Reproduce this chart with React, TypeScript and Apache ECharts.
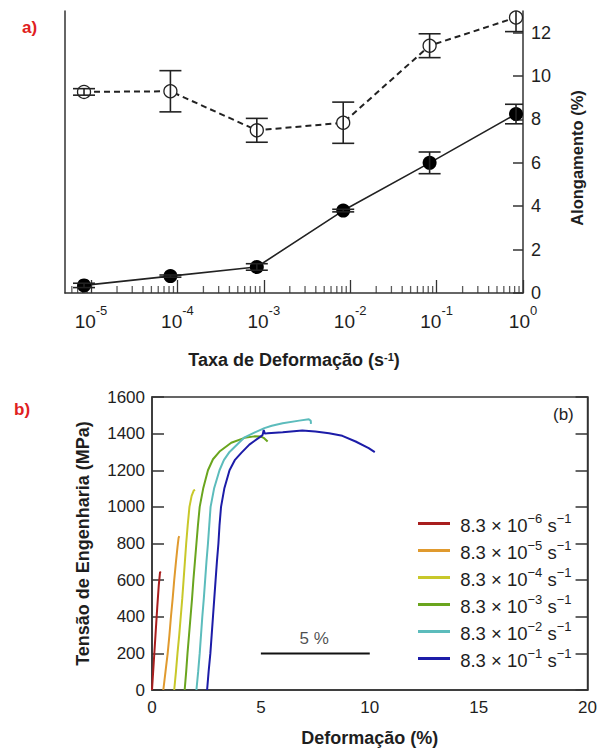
import { useEffect, useRef } from "react";
import * as echarts from "echarts";

// ---------- Panel a data ----------
const strainRates = [8.3e-6, 8.3e-5, 8.3e-4, 8.3e-3, 8.3e-2, 8.3e-1];
const uniformElong = [0.35, 0.78, 1.2, 3.8, 6.0, 8.25];
const uniformErr = [0.1, 0.05, 0.15, 0.06, 0.5, 0.45];
const totalElong = [9.27, 9.3, 7.5, 7.85, 11.4, 12.7];
const totalErr = [0.15, 0.95, 0.55, 0.95, 0.55, 0.65];
const elongTicks = [0, 2, 4, 6, 8, 10, 12];
const decadeExps = [-6, -5, -4, -3, -2, -1];
const minorMultipliers = [2, 3, 4, 5, 6, 7, 8, 9];

// ---------- Panel b data ----------
const curveExps = [-6, -5, -4, -3, -2, -1];
const curveColors = ["#a81e1e", "#e09a2e", "#c8c82a", "#6aa51e", "#5cbcbc", "#1c1ca8"];
const curve6 = [[0, 0], [0.08, 150], [0.16, 300], [0.24, 450], [0.31, 570], [0.37, 645], [0.4, 640]];
const curve5 = [[0.52, 0], [0.62, 100], [0.72, 200], [0.8, 300], [0.87, 400], [0.95, 500], [1.02, 600], [1.1, 700], [1.17, 780], [1.22, 830], [1.25, 840]];
const curve4 = [[1.02, 0], [1.1, 100], [1.17, 200], [1.25, 300], [1.32, 400], [1.39, 500], [1.45, 600], [1.51, 700], [1.57, 800], [1.64, 900], [1.72, 1000], [1.82, 1060], [1.92, 1090], [1.98, 1093]];
const curve3 = [[1.5, 0], [1.57, 100], [1.63, 200], [1.7, 300], [1.77, 400], [1.84, 500], [1.9, 600], [1.97, 700], [2.04, 800], [2.11, 900], [2.19, 1000], [2.35, 1100], [2.57, 1200], [2.8, 1260], [3.1, 1302], [3.64, 1350], [4.25, 1377], [4.7, 1385], [5.0, 1384], [5.15, 1375], [5.31, 1357]];
const curve2 = [[2.04, 0], [2.12, 100], [2.19, 200], [2.25, 300], [2.31, 400], [2.38, 500], [2.44, 600], [2.5, 700], [2.57, 800], [2.63, 900], [2.69, 1000], [2.85, 1100], [3.1, 1200], [3.3, 1255], [3.56, 1300], [4.25, 1380], [4.7, 1405], [5.16, 1430], [5.5, 1443], [6.0, 1457], [6.76, 1471], [7.2, 1479], [7.29, 1470], [7.3, 1453]];
const curve1 = [[2.53, 0], [2.6, 100], [2.68, 200], [2.74, 300], [2.8, 400], [2.86, 500], [2.92, 600], [2.98, 700], [3.05, 800], [3.1, 900], [3.17, 1000], [3.32, 1100], [3.56, 1200], [3.8, 1255], [4.1, 1295], [4.47, 1340], [4.7, 1360], [5.0, 1385], [5.08, 1393], [5.13, 1420], [5.18, 1400], [5.31, 1402], [6.0, 1408], [6.9, 1417], [7.5, 1411], [8.13, 1402], [8.74, 1388], [9.35, 1357], [9.95, 1321], [10.23, 1299]];
const curves = [curve6, curve5, curve4, curve3, curve2, curve1];
const scaleBar = [[5, 200], [10, 200]];
const scaleBarLabelPos = [[7.45, 200]];

const FONT = "Liberation Sans, Arial, Helvetica, sans-serif";
const INK = "#1e1e1e";
const AXIS = "#333";

const curveName = (e: number) => `8.3×10^${e} s^-1`;

export default function App() {
  const ref = useRef<HTMLDivElement>(null);
  useEffect(() => {
    if (!ref.current) return;
    const chart = echarts.init(ref.current, undefined, { renderer: "svg" });

    const minorTicks: number[][] = [];
    decadeExps.forEach((e) => {
      minorMultipliers.forEach((m) => {
        const v = m * Math.pow(10, e);
        if (v > 5e-6 && v < 1) minorTicks.push([v, 0]);
      });
    });

    const errRenderer = (params: any, api: any) => {
      const x = api.value(0);
      const y = api.value(1);
      const e = api.value(2);
      const top = api.coord([x, y + e]);
      const bot = api.coord([x, y - e]);
      const hw = 11;
      const st = { stroke: "#222", lineWidth: 1.6 };
      return {
        type: "group",
        children: [
          { type: "line", shape: { x1: top[0], y1: top[1], x2: bot[0], y2: bot[1] }, style: st },
          { type: "line", shape: { x1: top[0] - hw, y1: top[1], x2: top[0] + hw, y2: top[1] }, style: st },
          { type: "line", shape: { x1: bot[0] - hw, y1: bot[1], x2: bot[0] + hw, y2: bot[1] }, style: st },
        ],
      };
    };

    const option: any = {
      animation: false,
      backgroundColor: "#fff",
      textStyle: { fontFamily: FONT, color: INK },
      grid: [
        { left: 65, right: 77, top: 11, bottom: 456 },
        { left: 152, right: 10, top: 397, bottom: 59, show: true, borderColor: AXIS, borderWidth: 1.5, backgroundColor: "transparent" },
      ],
      xAxis: [
        {
          type: "log",
          logBase: 10,
          gridIndex: 0,
          min: 5e-6,
          max: 1,
          name: "Taxa de Deformação (s{s|-1})",
          nameLocation: "middle",
          nameGap: 58,
          nameTextStyle: {
            fontSize: 18,
            fontWeight: "bold",
            color: INK,
            rich: { s: { fontSize: 11, verticalAlign: "top", fontWeight: "bold", color: INK } },
          },
          axisLine: { show: true, lineStyle: { color: AXIS, width: 1.5 } },
          axisTick: { show: true, inside: true, length: 13, lineStyle: { color: AXIS, width: 1.3 } },
          splitLine: { show: false },
          axisLabel: {
            margin: 11,
            showMinLabel: false,
            formatter: (v: number) => {
              const lg = Math.log10(v);
              const e = Math.round(lg);
              if (Math.abs(lg - e) > 1e-6) return "";
              return `{b|10}{s|${e}}`;
            },
            rich: {
              b: { fontSize: 19, color: INK, lineHeight: 27, verticalAlign: "bottom" },
              s: { fontSize: 13, color: INK, verticalAlign: "top" },
            },
          },
        },
        {
          type: "value",
          gridIndex: 1,
          min: 0,
          max: 20,
          interval: 5,
          name: "Deformação (%)",
          nameLocation: "middle",
          nameGap: 39,
          nameTextStyle: { fontSize: 18, fontWeight: "bold", color: INK },
          axisLine: { show: true, lineStyle: { color: AXIS, width: 1.5 } },
          axisTick: { show: false },
          splitLine: { show: false },
          axisLabel: { fontSize: 17, color: INK, margin: 9, formatter: (v: number) => String(v) },
        },
      ],
      yAxis: [
        {
          type: "value",
          gridIndex: 0,
          position: "right",
          min: 0,
          max: 13,
          name: "Alongamento (%)",
          nameLocation: "middle",
          nameRotate: 90,
          nameGap: 45,
          nameTextStyle: { fontSize: 16.5, fontWeight: "bold", color: INK, padding: [0, 12, 0, 0] },
          axisLine: { show: true, lineStyle: { color: AXIS, width: 1.5 } },
          axisTick: { show: true, inside: true, length: 10, customValues: elongTicks, lineStyle: { color: AXIS, width: 1.5 } },
          axisLabel: { customValues: elongTicks, fontSize: 18, color: INK, margin: 8 },
          splitLine: { show: false },
        },
        {
          type: "value",
          gridIndex: 0,
          position: "left",
          min: 0,
          max: 13,
          axisLine: { show: true, lineStyle: { color: AXIS, width: 1.5 } },
          axisTick: { show: false },
          axisLabel: { show: false },
          splitLine: { show: false },
        },
        {
          type: "value",
          gridIndex: 1,
          min: 0,
          max: 1600,
          interval: 200,
          name: "Tensão de Engenharia (MPa)",
          nameLocation: "middle",
          nameGap: 60,
          nameTextStyle: { fontSize: 18, fontWeight: "bold", color: INK },
          axisLine: { show: true, lineStyle: { color: AXIS, width: 1.5 } },
          axisTick: { show: true, inside: true, length: 12, lineStyle: { color: AXIS, width: 1.5 } },
          axisLabel: { fontSize: 17, color: INK, margin: 7, formatter: (v: number) => String(v) },
          splitLine: { show: false },
        },
        {
          type: "value",
          gridIndex: 1,
          position: "right",
          min: 0,
          max: 1600,
          interval: 200,
          axisLine: { show: true, lineStyle: { color: AXIS, width: 1.5 } },
          axisTick: { show: true, inside: true, length: 12, lineStyle: { color: AXIS, width: 1.5 } },
          axisLabel: { show: false },
          splitLine: { show: false },
        },
      ],
      legend: {
        data: curveExps.map(curveName),
        orient: "vertical",
        left: 413,
        top: 507,
        itemWidth: 32,
        itemHeight: 3,
        itemGap: 4,
        icon: "rect",
        selectedMode: false,
        formatter: (name: string) => {
          const i = curveExps.map(curveName).indexOf(name);
          const e = curveExps[i];
          return `{n| 8.3 × 10}{s|−${-e}}{n| s}{s|−1}`;
        },
        textStyle: {
          rich: {
            n: { fontSize: 18.5, color: INK, lineHeight: 23, verticalAlign: "bottom", fontFamily: FONT },
            s: { fontSize: 13, color: INK, verticalAlign: "top", fontFamily: FONT },
          },
        },
      },
      graphic: [
        { type: "text", left: 22, top: 19, style: { text: "a)", fontSize: 17, fontWeight: "bold", fill: "#e02020", fontFamily: FONT } },
        { type: "text", left: 14, top: 401, style: { text: "b)", fontSize: 17, fontWeight: "bold", fill: "#e02020", fontFamily: FONT } },
        { type: "text", left: 553, top: 406, style: { text: "(b)", fontSize: 17, fill: INK, fontFamily: FONT } },
      ],
      series: [
        {
          name: "minorTicks",
          type: "scatter",
          xAxisIndex: 0,
          yAxisIndex: 0,
          data: minorTicks,
          symbol: "rect",
          symbolSize: [1.3, 7],
          symbolOffset: [0, -3.5],
          itemStyle: { color: AXIS },
          silent: true,
          z: 1,
        },
        {
          name: "Alongamento total",
          type: "line",
          xAxisIndex: 0,
          yAxisIndex: 0,
          data: strainRates.map((r, i) => [r, totalElong[i]]),
          symbol: "circle",
          symbolSize: 13,
          lineStyle: { color: "#222", width: 2, type: [6, 4] },
          itemStyle: { color: "#fff", borderColor: "#222", borderWidth: 1.3 },
          z: 2,
        },
        {
          name: "Alongamento uniforme",
          type: "line",
          xAxisIndex: 0,
          yAxisIndex: 0,
          data: strainRates.map((r, i) => [r, uniformElong[i]]),
          symbol: "circle",
          symbolSize: 14,
          lineStyle: { color: "#222", width: 1.6 },
          itemStyle: { color: "#000", borderColor: "#000", borderWidth: 0 },
          z: 2,
        },
        {
          name: "errTotal",
          type: "custom",
          xAxisIndex: 0,
          yAxisIndex: 0,
          clip: true,
          encode: { x: 0, y: 1 },
          data: strainRates.map((r, i) => [r, totalElong[i], totalErr[i]]),
          renderItem: errRenderer,
          z: 3,
          silent: true,
        },
        {
          name: "errUniform",
          type: "custom",
          xAxisIndex: 0,
          yAxisIndex: 0,
          clip: true,
          encode: { x: 0, y: 1 },
          data: strainRates.map((r, i) => [r, uniformElong[i], uniformErr[i]]),
          renderItem: errRenderer,
          z: 3,
          silent: true,
        },
        ...curves.map((c, i) => ({
          name: curveName(curveExps[i]),
          type: "line",
          xAxisIndex: 1,
          yAxisIndex: 2,
          data: c,
          showSymbol: false,
          symbol: "none",
          lineStyle: { color: curveColors[i], width: 2 },
          itemStyle: { color: curveColors[i] },
          z: 2 + i * 0.01,
        })),
        {
          name: "scaleBar",
          type: "line",
          xAxisIndex: 1,
          yAxisIndex: 2,
          data: scaleBar,
          symbol: "none",
          lineStyle: { color: "#111", width: 2 },
        },
        {
          name: "scaleBarLabel",
          type: "scatter",
          xAxisIndex: 1,
          yAxisIndex: 2,
          data: scaleBarLabelPos,
          symbolSize: 0,
          label: { show: true, position: "top", distance: 6, formatter: "5 %", fontSize: 17, color: INK },
          silent: true,
        },
      ],
    };
    chart.setOption(option);
    return () => chart.dispose();
  }, []);

  return (
    <div
      ref={ref}
      style={{ position: "fixed", left: 0, top: 0, width: 600, height: 749, background: "#fff" }}
    />
  );
}
